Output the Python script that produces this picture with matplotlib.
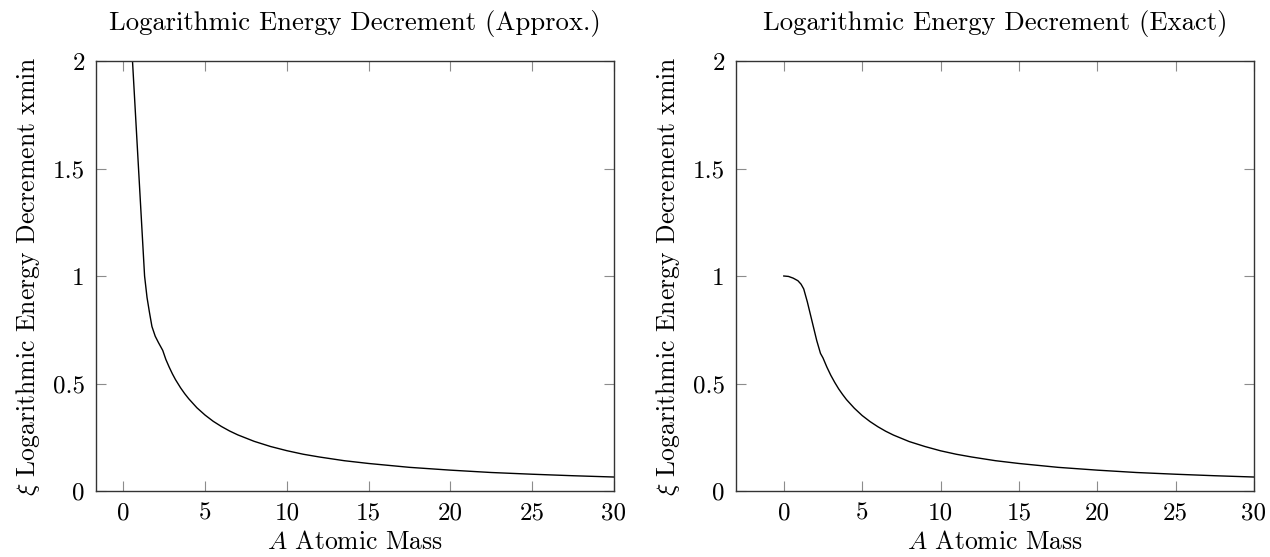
import matplotlib
matplotlib.use("Agg")
import matplotlib.pyplot as plt

plt.rcParams['font.family'] = ['cmr10', 'DejaVu Serif']
plt.rcParams['mathtext.fontset'] = 'cm'
plt.rcParams['axes.formatter.use_mathtext'] = True
plt.rcParams['font.size'] = 16

# approx curve
A_approx = [0.2, 0.93, 1.3, 1.45, 1.6, 1.75, 1.95, 2.15, 2.41, 2.6, 2.8, 3.0, 3.19, 3.5, 3.75, 4,
            4.5, 5, 5.5, 6, 6.5, 7, 8, 9, 10, 11, 12, 13.5, 15, 17.5, 20, 22.5, 25, 27.5, 30]
xi_approx = [2.49, 1.5, 1.0, 0.90, 0.83, 0.765, 0.72, 0.69, 0.654, 0.612, 0.577, 0.545, 0.518,
             0.48, 0.453, 0.429, 0.387, 0.353, 0.324, 0.300, 0.279, 0.261, 0.231, 0.207, 0.1875,
             0.171, 0.158, 0.141, 0.128, 0.110, 0.097, 0.086, 0.078, 0.071, 0.065]

# exact curve
A_exact = [0, 0.3, 0.6, 0.9, 1.1, 1.27, 1.5, 1.8, 2.1, 2.34, 2.5, 2.75, 3, 3.25, 3.5, 3.75, 4,
           4.5, 5, 5.5, 6, 6.5, 7, 8, 9, 10, 11, 12, 13.5, 15, 17.5, 20, 22.5, 25, 27.5, 30]
xi_exact = [1.0, 0.998, 0.99, 0.978, 0.962, 0.94, 0.88, 0.79, 0.70, 0.64, 0.619, 0.576, 0.538,
            0.505, 0.475, 0.449, 0.425, 0.385, 0.351, 0.323, 0.299, 0.278, 0.260, 0.230, 0.207,
            0.187, 0.171, 0.158, 0.141, 0.128, 0.110, 0.097, 0.086, 0.078, 0.071, 0.065]

x_ticks = [0, 5, 10, 15, 20, 25, 30]
y_ticks = [0, 0.5, 1, 1.5, 2]
y_ticklabels = ['0', '0.5', '1', '1.5', '2']

fig = plt.figure(figsize=(12.7, 5.57), dpi=100)
W, H = 1270, 557
ax1 = fig.add_axes([96 / W, (H - 491) / H, (614 - 96) / W, 430 / H])
ax2 = fig.add_axes([736 / W, (H - 491) / H, (1254 - 736) / W, 430 / H])

panels = [
    (ax1, A_approx, xi_approx, -1.67, 'Logarithmic Energy Decrement (Approx.)'),
    (ax2, A_exact, xi_exact, -3.05, 'Logarithmic Energy Decrement (Exact)'),
]

for ax, a, xi, xmin, title in panels:
    ax.plot(a, xi, color='black', lw=1.0)
    ax.set_xlim(xmin, 30)
    ax.set_ylim(0, 2)
    ax.set_xticks(x_ticks)
    ax.set_xticklabels([str(t) for t in x_ticks])
    ax.set_yticks(y_ticks)
    ax.set_yticklabels(y_ticklabels)
    ax.tick_params(direction='in', length=7.5, width=0.8, color='0.55',
                   top=True, right=True, pad=8, labelsize=18)
    for s in ax.spines.values():
        s.set_linewidth(1.0)
        s.set_color('0.2')
    ax.set_title(title, pad=22, fontsize=19.2)
    ax.set_xlabel(r'$A$ Atomic Mass', labelpad=4, fontsize=18.5)
    ax.set_ylabel(r'$\xi$ Logarithmic Energy Decrement xmin', labelpad=8, fontsize=18.5)

fig.savefig('out.png', dpi=100)
